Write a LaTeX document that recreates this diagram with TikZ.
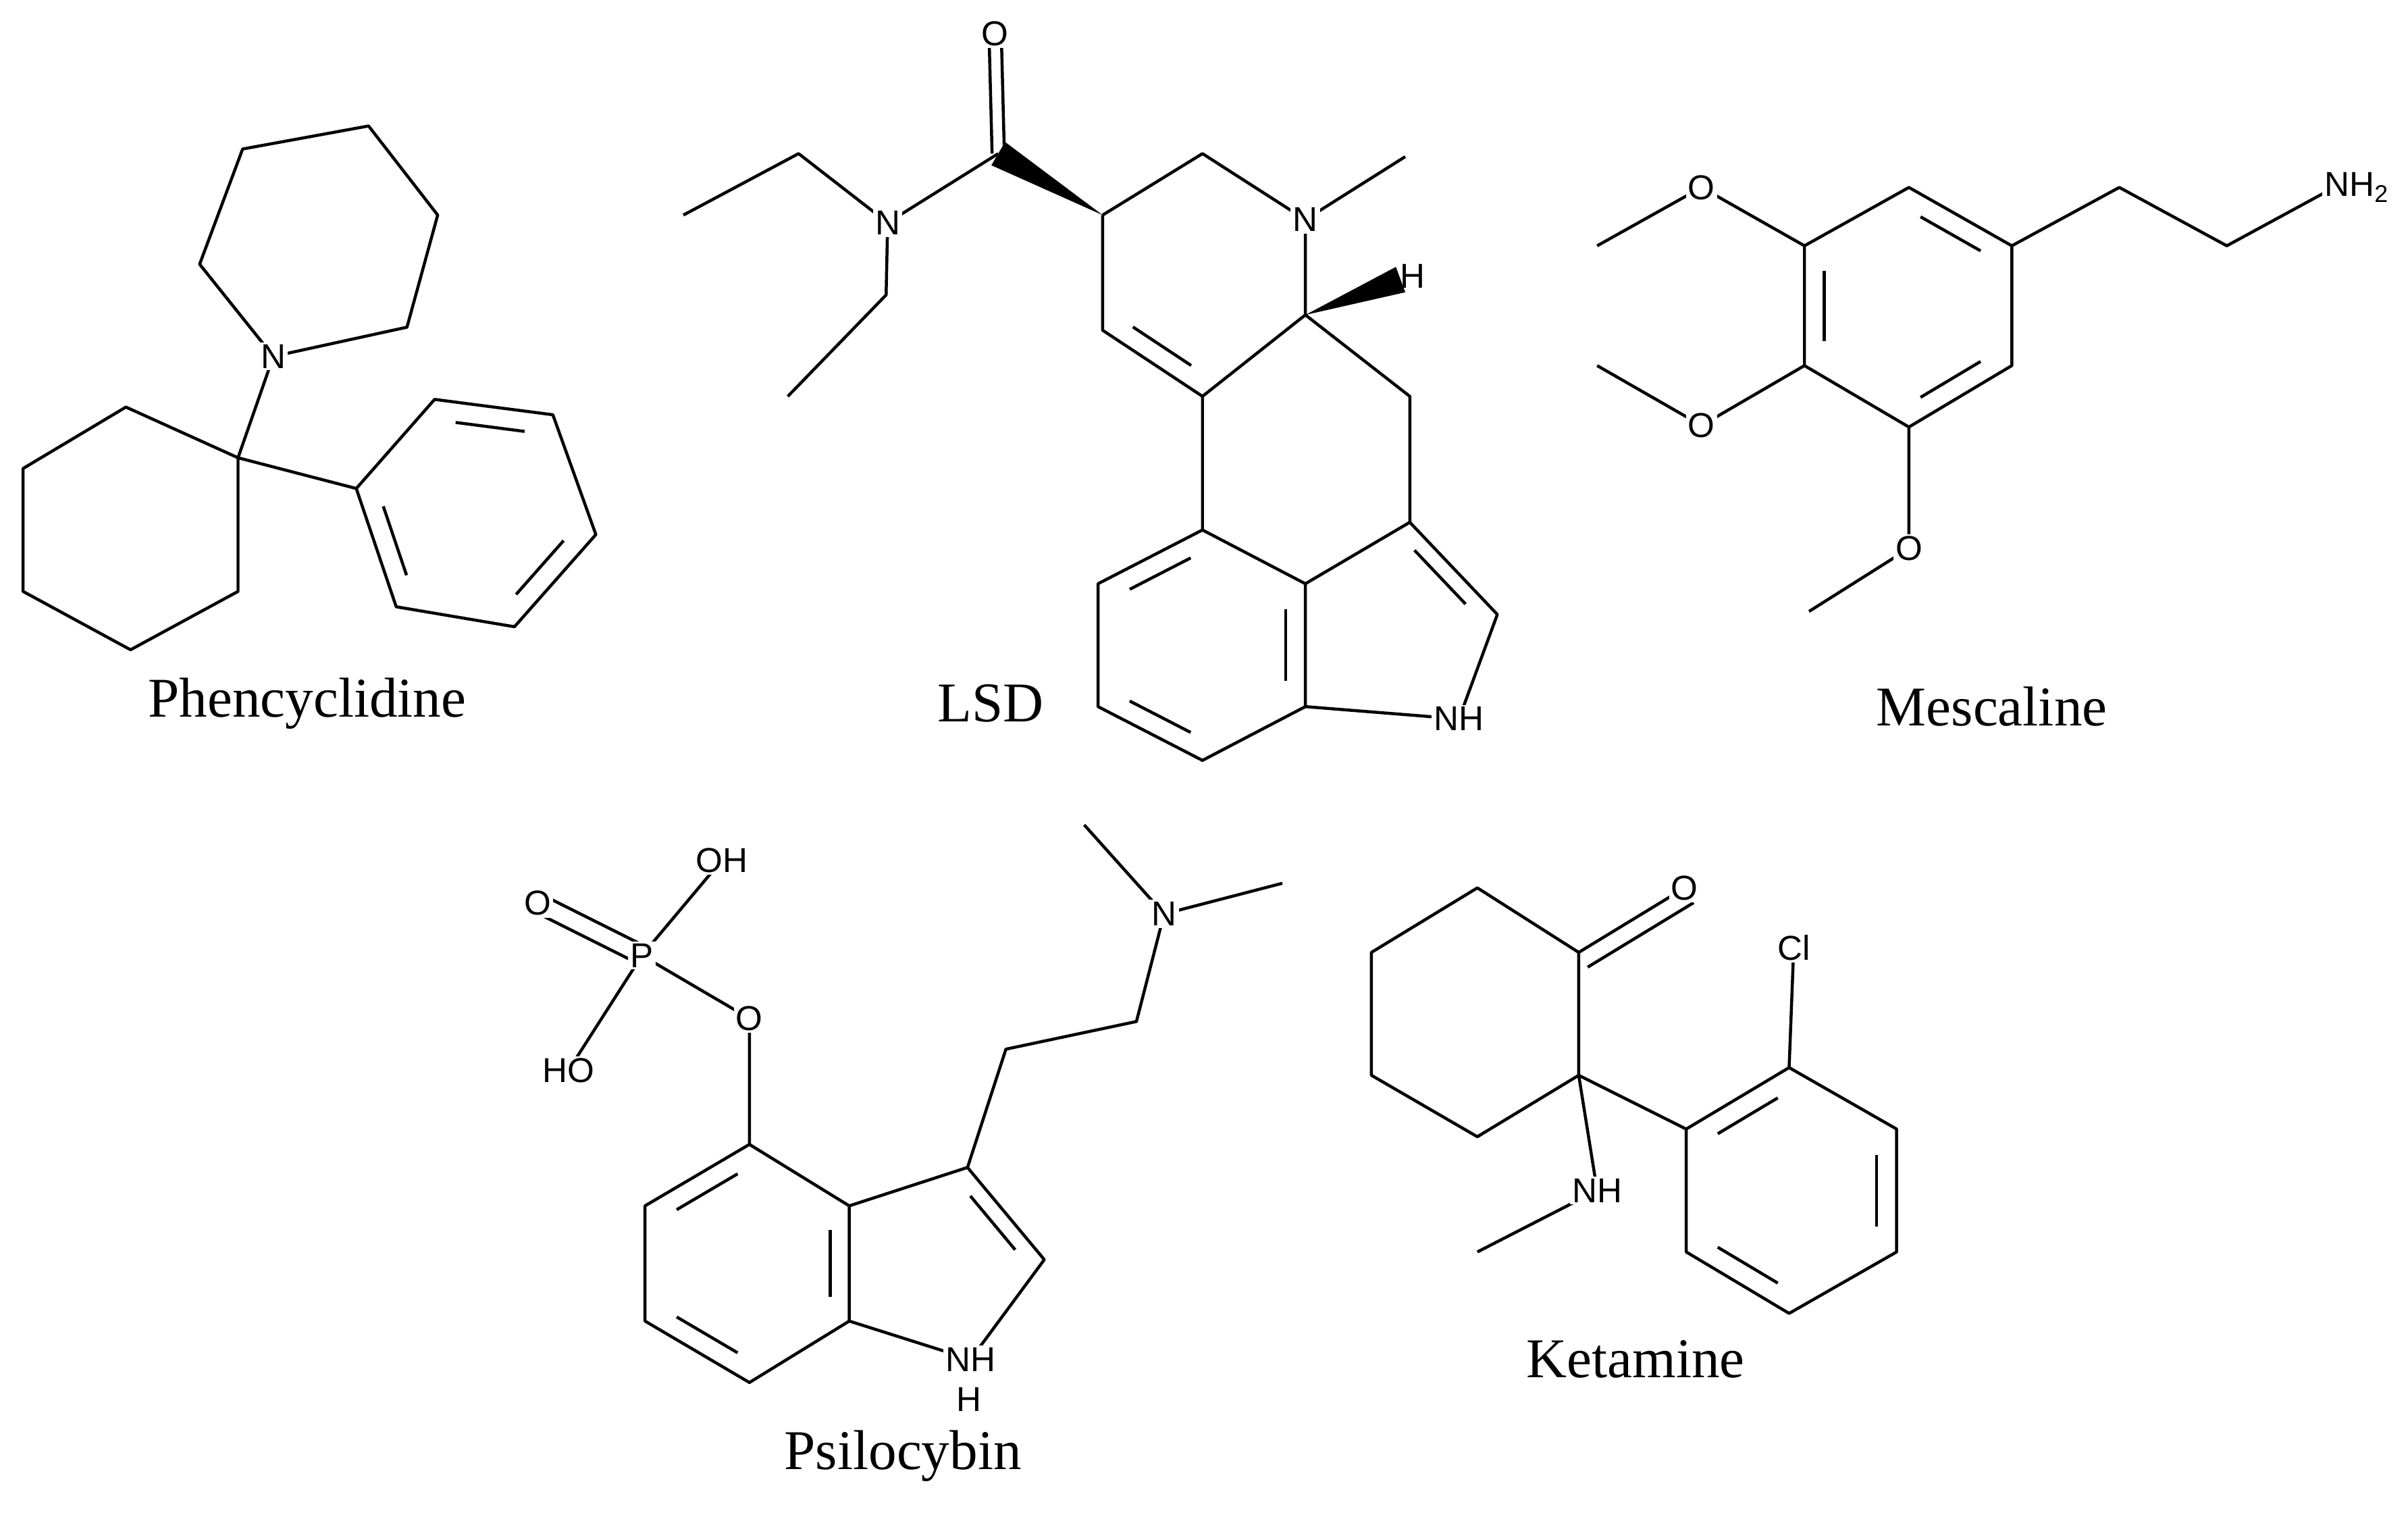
\documentclass[tikz,border=0pt]{standalone}
\usepackage{fontspec}
\setmainfont{Liberation Serif}
\newfontfamily\atomfont{Liberation Sans}
\usetikzlibrary{calc}
\tikzset{bond/.style={line width=1.4pt,line join=round},
 atom/.style={fill=white,inner sep=1pt,font=\atomfont\fontsize{16}{16}\selectfont},
 title/.style={font=\fontsize{26}{26}\selectfont}}
\newcommand{\dbl}[3]{\draw[bond] ($($(#1)!0.14!(#2)$)!0.19!(#3)$) -- ($($(#2)!0.14!(#1)$)!0.19!(#3)$);}
\newcommand{\wdg}[2]{\fill (#1) -- ($(#2)!2.2mm!90:(#1)$) -- ($(#2)!2.2mm!-90:(#1)$) -- cycle;}
\begin{document}
\begin{tikzpicture}[x=0.25mm,y=-0.25mm]
\useasboundingbox (0,0) rectangle (1568,986);
% ---------- Phencyclidine
\foreach \n/\p in {p1/{158,97},p2/{240,82},p3/{285,140},p4/{265,213},pN/{178,232},p6/{130,172},
 c1/{155,298},c2/{82,265},c3/{15,305},c4/{15,385},c5/{85,423},c6/{155,385},
 b1/{232,318},b2/{283,260},b3/{360,270},b4/{388,348},b5/{335,408},b6/{258,395},bc/{309,333}}
 \coordinate (\n) at (\p);
\draw[bond] (p1)--(p2)--(p3)--(p4)--(pN)--(p6)--cycle;
\draw[bond] (pN)--(c1);
\draw[bond] (c1)--(c2)--(c3)--(c4)--(c5)--(c6)--cycle;
\draw[bond] (c1)--(b1);
\draw[bond] (b1)--(b2)--(b3)--(b4)--(b5)--(b6)--cycle;
\dbl{b2}{b3}{bc}\dbl{b4}{b5}{bc}\dbl{b6}{b1}{bc}
\node[atom] (pNl) at (pN) {N};
\node[title] (tPCP) at (200,458) {Phencyclidine};
% ---------- LSD
\foreach \n/\p in {O/{648,22},Cc/{650,100},Na/{578,145},e1/{520,100},e2/{445,140},f1/{577,192},f2/{513,258},
 C8/{718,140},C7/{783,100},N6/{850,143},Me/{915,102},C5/{850,205},H/{912,182},C9/{718,215},C10/{783,258},
 C4/{918,258},C3/{918,340},C11/{783,345},a2/{715,380},a3/{715,460},a4/{783,495},a5/{850,460},a6/{850,380},
 C2/{975,400},N1/{950,468},dc/{783,178},ac/{783,420},pc/{900,400}}
 \coordinate (\n) at (\p);
\draw[bond] ($(Cc)+(-4,0)$)--($(O)+(-4,0)$) ($(Cc)+(4,0)$)--($(O)+(4,0)$);
\draw[bond] (Cc)--(Na)--(e1)--(e2) (Na)--(f1)--(f2);
\wdg{C8}{Cc}
\draw[bond] (C8)--(C7)--(N6)--(Me) (N6)--(C5)--(C10)--(C9)--(C8);
\dbl{C9}{C10}{dc}
\wdg{C5}{H}
\draw[bond] (C5)--(C4)--(C3) (C10)--(C11);
\draw[bond] (C11)--(a2)--(a3)--(a4)--(a5)--(a6)--cycle;
\dbl{C11}{a2}{ac}\dbl{a3}{a4}{ac}\dbl{a5}{a6}{ac}
\draw[bond] (a6)--(C3)--(C2)--(N1)--(a5);
\dbl{C3}{C2}{pc}
\node[atom] (Ol) at (O) {O};
\node[atom] (Nal) at (Na) {N};
\node[atom] (N6l) at (N6) {N};
\node[atom,fill=none] (Hl) at ($(H)+(8,-2)$) {H};
\node[atom] (N1l) at (N1) {NH};
\node[title] (tLSD) at (645,458) {LSD};
% ---------- Mescaline
\foreach \n/\p in {m1/{1243,122},m2/{1310,160},m3/{1310,238},m4/{1243,278},m5/{1175,238},m6/{1175,160},mc/{1243,200},
 s1/{1380,122},s2/{1450,160},NH2/{1520,122},O1/{1108,122},M1/{1040,160},O2/{1108,277},M2/{1040,238},O3/{1243,357},M3/{1178,398}}
 \coordinate (\n) at (\p);
\draw[bond] (m1)--(m2)--(m3)--(m4)--(m5)--(m6)--cycle;
\dbl{m1}{m2}{mc}\dbl{m3}{m4}{mc}\dbl{m5}{m6}{mc}
\draw[bond] (m2)--(s1)--(s2)--(NH2);
\draw[bond] (m6)--(O1)--(M1) (m5)--(O2)--(M2) (m4)--(O3)--(M3);
\node[atom,anchor=west] (NH2l) at ($(NH2)+(-8,0)$) {NH\textsubscript{2}};
\node[atom] (O1l) at (O1) {O};
\node[atom] (O2l) at (O2) {O};
\node[atom] (O3l) at (O3) {O};
\node[title] (tMes) at (1297,460) {Mescaline};
% ---------- Psilocybin
\foreach \n/\p in {P/{418,622},Od/{350,588},OH/{470,560},HO/{370,697},Oe/{488,663},
 q1/{488,745},q2/{420,785},q3/{420,860},q4/{488,900},q5/{553,860},q6/{553,785},qc/{488,822},
 r3/{630,760},r2/{680,820},rN/{632,885},rc/{610,822},t1/{655,683},t2/{740,665},tN/{758,595},u1/{706,537},u2/{835,575}}
 \coordinate (\n) at (\p);
\draw[bond] ($(P)+(2,-6)$)--($(Od)+(2,-6)$) ($(P)+(-3,5)$)--($(Od)+(-3,5)$);
\draw[bond] (P)--(OH) (P)--(HO) (P)--(Oe)--(q1);
\draw[bond] (q1)--(q2)--(q3)--(q4)--(q5)--(q6)--cycle;
\dbl{q1}{q2}{qc}\dbl{q3}{q4}{qc}\dbl{q5}{q6}{qc}
\draw[bond] (q6)--(r3)--(r2)--(rN)--(q5);
\dbl{r3}{r2}{rc}
\draw[bond] (r3)--(t1)--(t2)--(tN)--(u1) (tN)--(u2);
\node[atom] (Pl) at (P) {P};
\node[atom] (Odl) at (Od) {O};
\node[atom] (OHl) at (OH) {OH};
\node[atom] (HOl) at (HO) {HO};
\node[atom] (Oel) at (Oe) {O};
\node[atom] (rNl) at (rN) {NH};
\node[atom,fill=none] (rHl) at ($(rN)+(-1,26)$) {H};
\node[atom] (tNl) at (tN) {N};
\node[title] (tPsi) at (588,948) {Psilocybin};
% ---------- Ketamine
\foreach \n/\p in {k1/{962,578},k2/{1028,620},k3/{1028,700},k4/{962,740},k5/{893,700},k6/{893,620},
 KO/{1097,578},KN/{1040,775},KM/{962,815},h1/{1098,735},h2/{1165,695},h3/{1235,735},h4/{1235,815},h5/{1165,855},h6/{1098,815},hc/{1166,775},Cl/{1168,617}}
 \coordinate (\n) at (\p);
\draw[bond] (k1)--(k2)--(k3)--(k4)--(k5)--(k6)--cycle;
\draw[bond] (k2)--(KO) ($(k2)!8pt!-90:(KO)$)--($(KO)!8pt!90:(k2)$);
\draw[bond] (k3)--(KN)--(KM) (k3)--(h1);
\draw[bond] (h1)--(h2)--(h3)--(h4)--(h5)--(h6)--cycle;
\dbl{h1}{h2}{hc}\dbl{h3}{h4}{hc}\dbl{h5}{h6}{hc}
\draw[bond] (h2)--(Cl);
\node[atom] (KOl) at (KO) {O};
\node[atom] (KNl) at (KN) {NH};
\node[atom] (Cll) at (Cl) {Cl};
\node[title] (tKet) at (1065,885) {Ketamine};
\end{tikzpicture}
\end{document}
